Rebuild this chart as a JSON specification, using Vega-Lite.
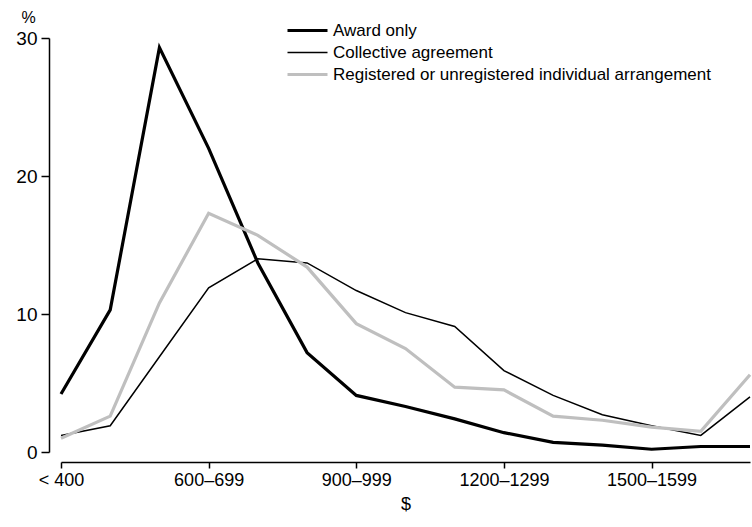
{
  "$schema": "https://vega.github.io/schema/vega-lite/v6.json",
  "width": 689,
  "height": 414,
  "autosize": "none",
  "padding": {"left": 61, "top": 38, "right": 2, "bottom": 75},
  "background": "white",
  "config": {
    "view": {"stroke": null},
    "font": "Liberation Sans",
    "axis": {"grid": false, "domainColor": "black", "tickColor": "black", "labelColor": "black", "titleColor": "black", "titleFontWeight": "normal", "domainWidth": 1.5, "tickWidth": 1.5}
  },
  "data": {"values": [
    {"income": "< 400", "type": "Award only", "pct": 4.2},
    {"income": "400–499", "type": "Award only", "pct": 10.3},
    {"income": "500–599", "type": "Award only", "pct": 29.3},
    {"income": "600–699", "type": "Award only", "pct": 22.0},
    {"income": "700–799", "type": "Award only", "pct": 13.7},
    {"income": "800–899", "type": "Award only", "pct": 7.2},
    {"income": "900–999", "type": "Award only", "pct": 4.1},
    {"income": "1000–1099", "type": "Award only", "pct": 3.3},
    {"income": "1100–1199", "type": "Award only", "pct": 2.4},
    {"income": "1200–1299", "type": "Award only", "pct": 1.4},
    {"income": "1300–1399", "type": "Award only", "pct": 0.7},
    {"income": "1400–1499", "type": "Award only", "pct": 0.5},
    {"income": "1500–1599", "type": "Award only", "pct": 0.2},
    {"income": "1600–1699", "type": "Award only", "pct": 0.4},
    {"income": "1700 and over", "type": "Award only", "pct": 0.4},
    {"income": "< 400", "type": "Collective agreement", "pct": 1.2},
    {"income": "400–499", "type": "Collective agreement", "pct": 1.9},
    {"income": "500–599", "type": "Collective agreement", "pct": 6.9},
    {"income": "600–699", "type": "Collective agreement", "pct": 11.9},
    {"income": "700–799", "type": "Collective agreement", "pct": 14.0},
    {"income": "800–899", "type": "Collective agreement", "pct": 13.7},
    {"income": "900–999", "type": "Collective agreement", "pct": 11.7},
    {"income": "1000–1099", "type": "Collective agreement", "pct": 10.1},
    {"income": "1100–1199", "type": "Collective agreement", "pct": 9.1},
    {"income": "1200–1299", "type": "Collective agreement", "pct": 5.9},
    {"income": "1300–1399", "type": "Collective agreement", "pct": 4.1},
    {"income": "1400–1499", "type": "Collective agreement", "pct": 2.7},
    {"income": "1500–1599", "type": "Collective agreement", "pct": 1.9},
    {"income": "1600–1699", "type": "Collective agreement", "pct": 1.2},
    {"income": "1700 and over", "type": "Collective agreement", "pct": 4.0},
    {"income": "< 400", "type": "Registered or unregistered individual arrangement", "pct": 1.0},
    {"income": "400–499", "type": "Registered or unregistered individual arrangement", "pct": 2.6},
    {"income": "500–599", "type": "Registered or unregistered individual arrangement", "pct": 10.8},
    {"income": "600–699", "type": "Registered or unregistered individual arrangement", "pct": 17.3},
    {"income": "700–799", "type": "Registered or unregistered individual arrangement", "pct": 15.7},
    {"income": "800–899", "type": "Registered or unregistered individual arrangement", "pct": 13.4},
    {"income": "900–999", "type": "Registered or unregistered individual arrangement", "pct": 9.3},
    {"income": "1000–1099", "type": "Registered or unregistered individual arrangement", "pct": 7.5},
    {"income": "1100–1199", "type": "Registered or unregistered individual arrangement", "pct": 4.7},
    {"income": "1200–1299", "type": "Registered or unregistered individual arrangement", "pct": 4.5},
    {"income": "1300–1399", "type": "Registered or unregistered individual arrangement", "pct": 2.6},
    {"income": "1400–1499", "type": "Registered or unregistered individual arrangement", "pct": 2.3},
    {"income": "1500–1599", "type": "Registered or unregistered individual arrangement", "pct": 1.8},
    {"income": "1600–1699", "type": "Registered or unregistered individual arrangement", "pct": 1.5},
    {"income": "1700 and over", "type": "Registered or unregistered individual arrangement", "pct": 5.6}
  ]},
  "mark": {"type": "line", "strokeJoin": "miter", "strokeCap": "butt"},
  "encoding": {
    "x": {
      "field": "income", "type": "ordinal", "sort": null,
      "scale": {"type": "point", "padding": 0},
      "axis": {
        "title": "$", "titleFontSize": 18, "titlePadding": 6,
        "values": ["< 400", "600–699", "900–999", "1200–1299", "1500–1599"],
        "labelAngle": 0, "labelFontSize": 18, "labelPadding": 3, "tickSize": 6,
        "offset": 10
      }
    },
    "y": {
      "field": "pct", "type": "quantitative",
      "scale": {"domain": [0, 30], "nice": false},
      "axis": {
        "title": "%", "titleAngle": 0, "titleFontSize": 16, "titleX": -28, "titleY": -16, "titleAlign": "left", "titleBaseline": "alphabetic",
        "values": [0, 10, 20, 30], "labelFontSize": 19, "tickSize": 8, "labelPadding": 4, "offset": 12
      }
    },
    "color": {
      "field": "type", "type": "nominal",
      "scale": {"domain": ["Award only", "Collective agreement", "Registered or unregistered individual arrangement"], "range": ["#000000", "#000000", "#bfbfbf"]},
      "legend": {
        "title": null, "orient": "none", "legendX": 238, "legendY": -16,
        "symbolType": "M-4,0H4", "symbolSize": 100, "labelFontSize": 17, "labelOffset": 17, "rowPadding": 4, "labelColor": "black", "labelLimit": 600
      }
    },
    "strokeWidth": {
      "field": "type", "type": "nominal",
      "scale": {"type": "ordinal", "domain": ["Award only", "Collective agreement", "Registered or unregistered individual arrangement"], "range": [3.2, 1.5, 3.2]},
      "legend": {
        "title": null, "orient": "none", "legendX": 238, "legendY": -16,
        "symbolType": "M-4,0H4", "symbolSize": 100, "labelFontSize": 17, "labelOffset": 17, "rowPadding": 4, "labelColor": "black", "labelLimit": 600
      }
    }
  }
}
